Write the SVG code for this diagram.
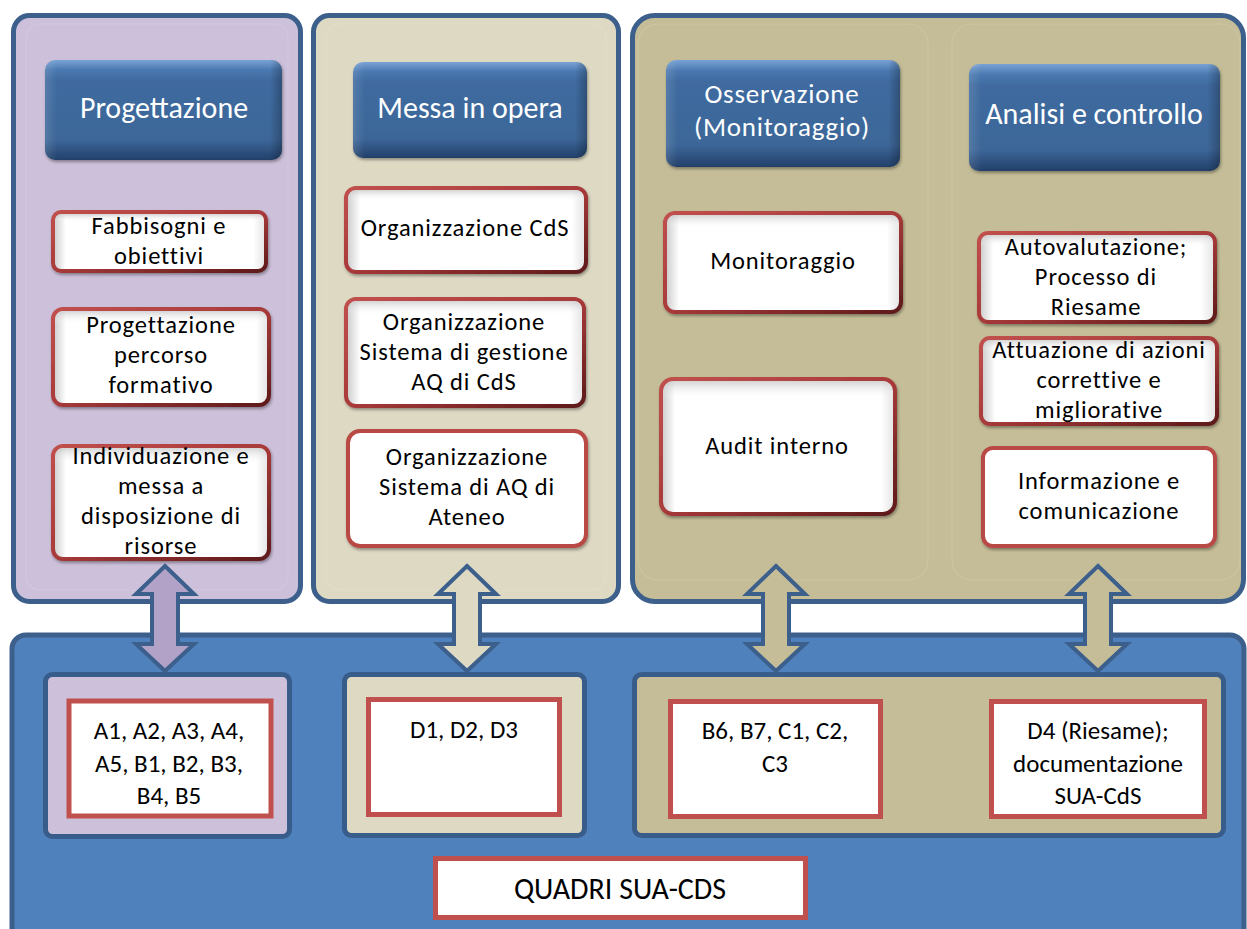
<svg xmlns="http://www.w3.org/2000/svg" width="1247" height="929" viewBox="0 0 1247 929">
<defs>
  <linearGradient id="hdrG" x1="0" y1="0" x2="0" y2="1">
    <stop offset="0" stop-color="#7aa3d6"/>
    <stop offset="0.1" stop-color="#4a78b0"/>
    <stop offset="0.2" stop-color="#3f6ba0"/>
    <stop offset="0.8" stop-color="#3c6698"/>
    <stop offset="1" stop-color="#22406a"/>
  </linearGradient>
  <linearGradient id="hdrSide" x1="0" y1="0" x2="1" y2="0">
    <stop offset="0" stop-color="#ffffff" stop-opacity="0.12"/>
    <stop offset="0.05" stop-color="#ffffff" stop-opacity="0"/>
    <stop offset="0.95" stop-color="#000000" stop-opacity="0"/>
    <stop offset="1" stop-color="#000000" stop-opacity="0.25"/>
  </linearGradient>
  <linearGradient id="bevX" x1="0" y1="0" x2="1" y2="0">
    <stop offset="0" stop-color="#c8c8c8"/>
    <stop offset="0.06" stop-color="#ffffff"/>
    <stop offset="0.94" stop-color="#ffffff"/>
    <stop offset="1" stop-color="#e2e2e2"/>
  </linearGradient>
  <linearGradient id="bevY" x1="0" y1="0" x2="0" y2="1">
    <stop offset="0" stop-color="#b8b8b8" stop-opacity="0.6"/>
    <stop offset="0.14" stop-color="#ffffff" stop-opacity="0"/>
    <stop offset="1" stop-color="#ffffff" stop-opacity="0"/>
  </linearGradient>
  <linearGradient id="redS" x1="0" y1="0" x2="1" y2="1">
    <stop offset="0" stop-color="#c0504d"/>
    <stop offset="0.5" stop-color="#a83a3a"/>
    <stop offset="1" stop-color="#5e1a1a"/>
  </linearGradient>
  <filter id="sh" x="-10%" y="-10%" width="120%" height="130%">
    <feDropShadow dx="1" dy="2" stdDeviation="1.5" flood-color="#000" flood-opacity="0.35"/>
  </filter>
</defs>
<style>
  .panel{stroke:#3c5f8c;stroke-width:5}
  .lane{fill:none;stroke:#ffffff;stroke-opacity:0.1;stroke-width:1.5}
  .hdr{fill:url(#hdrG);filter:url(#sh)}
  .hdrside{fill:url(#hdrSide)}
  .bev{fill:url(#bevX);stroke:url(#redS);stroke-width:4;filter:url(#sh)}
  .bevy{fill:url(#bevY)}
  .flat{fill:#ffffff;stroke:#b84845;stroke-width:4;filter:url(#sh)}
  .sub{stroke:#385d8a;stroke-width:5}
  .wbox{fill:#ffffff;stroke:#c0504d;stroke-width:5}
  .arrow{stroke:#3c5f8c;stroke-width:4;stroke-linejoin:miter}
  text{font-family:Carlito,Calibri,Lato,"Liberation Sans",sans-serif;text-anchor:middle}
  .ht{fill:#ffffff;font-size:30px}
  .ht2{fill:#ffffff;font-size:27px;letter-spacing:0.8px}
  .bt{fill:#000000;font-size:24.5px;letter-spacing:0.9px}
  .ct{fill:#000000;font-size:25px}
  .qt{fill:#000000;font-size:30px}
</style>

<!-- top panels -->
<g id="panel-progettazione">
  <rect class="panel" x="13.5" y="15.5" width="287" height="586" rx="16" fill="#ccc0da"/>
  <rect class="lane" x="26" y="24" width="262" height="566" rx="14"/>
</g>
<g id="panel-messa">
  <rect class="panel" x="313.5" y="15.5" width="305" height="586" rx="16" fill="#ddd9c3"/>
  <rect class="lane" x="326" y="24" width="280" height="566" rx="14"/>
</g>
<g id="panel-osservazione-analisi">
  <rect class="panel" x="632.5" y="15.5" width="611" height="586" rx="22" fill="#c4bd97"/>
  <rect class="lane" x="638" y="24" width="290" height="556" rx="20"/>
  <rect class="lane" x="952" y="24" width="288" height="556" rx="20"/>
</g>

<!-- bottom panel -->
<g id="panel-quadri">
  <rect class="panel" x="12" y="635" width="1232" height="320" rx="14" fill="#4f81bd" stroke="#385d8a"/>
</g>

<!-- headers -->
<g id="hdr-progettazione">
  <rect class="hdr" x="45" y="60" width="237" height="100" rx="10"/>
  <rect class="hdrside" x="45" y="60" width="237" height="100" rx="10"/>
  <text class="ht" x="164" y="118">Progettazione</text>
</g>
<g id="hdr-messa">
  <rect class="hdr" x="353" y="62" width="234" height="96" rx="10"/>
  <rect class="hdrside" x="353" y="62" width="234" height="96" rx="10"/>
  <text class="ht" x="470" y="118">Messa in opera</text>
</g>
<g id="hdr-osservazione">
  <rect class="hdr" x="666" y="60" width="234" height="107" rx="10"/>
  <rect class="hdrside" x="666" y="60" width="234" height="107" rx="10"/>
  <text class="ht2" x="782" y="103">Osservazione</text>
  <text class="ht2" x="782" y="136">(Monitoraggio)</text>
</g>
<g id="hdr-analisi">
  <rect class="hdr" x="969" y="64" width="251" height="107" rx="10"/>
  <rect class="hdrside" x="969" y="64" width="251" height="107" rx="10"/>
  <text class="ht" x="1094" y="124">Analisi e controllo</text>
</g>

<!-- column 1 boxes -->
<g id="box-fabbisogni">
  <rect class="bev" x="53" y="212" width="213" height="59" rx="8"/>
  <rect class="bevy" x="55" y="214" width="209" height="55" rx="7"/>
  <text class="bt" x="159" y="234">Fabbisogni e</text>
  <text class="bt" x="159" y="264">obiettivi</text>
</g>
<g id="box-progettazione-percorso">
  <rect class="bev" x="53" y="309" width="216" height="96" rx="10"/>
  <rect class="bevy" x="55" y="311" width="212" height="92" rx="9"/>
  <text class="bt" x="161" y="333">Progettazione</text>
  <text class="bt" x="161" y="363">percorso</text>
  <text class="bt" x="161" y="393">formativo</text>
</g>
<g id="box-individuazione">
  <rect class="bev" x="53" y="446" width="216" height="113" rx="10"/>
  <rect class="bevy" x="55" y="448" width="212" height="109" rx="9"/>
  <text class="bt" x="161" y="464">Individuazione e</text>
  <text class="bt" x="161" y="494">messa a</text>
  <text class="bt" x="161" y="524">disposizione di</text>
  <text class="bt" x="161" y="554">risorse</text>
</g>

<!-- column 2 boxes -->
<g id="box-org-cds">
  <rect class="bev" x="346" y="188" width="240" height="84" rx="10"/>
  <rect class="bevy" x="348" y="190" width="236" height="80" rx="9"/>
  <text class="bt" x="465" y="236">Organizzazione CdS</text>
</g>
<g id="box-org-gestione">
  <rect class="bev" x="346" y="299" width="238" height="107" rx="10"/>
  <rect class="bevy" x="348" y="301" width="234" height="103" rx="9"/>
  <text class="bt" x="464" y="330">Organizzazione</text>
  <text class="bt" x="464" y="360">Sistema di gestione</text>
  <text class="bt" x="464" y="390">AQ di CdS</text>
</g>
<g id="box-org-ateneo">
  <rect class="flat" x="348" y="431" width="238" height="115" rx="12"/>
  <text class="bt" x="467" y="465">Organizzazione</text>
  <text class="bt" x="467" y="495">Sistema di AQ di</text>
  <text class="bt" x="467" y="525">Ateneo</text>
</g>

<!-- column 3 boxes -->
<g id="box-monitoraggio">
  <rect class="bev" x="665" y="213" width="236" height="99" rx="10"/>
  <rect class="bevy" x="667" y="215" width="232" height="95" rx="9"/>
  <text class="bt" x="783" y="269">Monitoraggio</text>
</g>
<g id="box-audit">
  <rect class="bev" x="661" y="379" width="234" height="135" rx="12"/>
  <rect class="bevy" x="663" y="381" width="230" height="131" rx="11"/>
  <text class="bt" x="777" y="454">Audit interno</text>
</g>

<!-- column 4 boxes -->
<g id="box-autovalutazione">
  <rect class="bev" x="979" y="233" width="236" height="89" rx="9"/>
  <rect class="bevy" x="981" y="235" width="232" height="85" rx="8"/>
  <text class="bt" x="1096" y="255">Autovalutazione;</text>
  <text class="bt" x="1096" y="285">Processo di</text>
  <text class="bt" x="1096" y="315">Riesame</text>
</g>
<g id="box-attuazione">
  <rect class="bev" x="981" y="338" width="236" height="86" rx="9"/>
  <rect class="bevy" x="983" y="340" width="232" height="82" rx="8"/>
  <text class="bt" x="1099" y="358">Attuazione di azioni</text>
  <text class="bt" x="1099" y="388">correttive e</text>
  <text class="bt" x="1099" y="418">migliorative</text>
</g>
<g id="box-informazione">
  <rect class="flat" x="983" y="448" width="232" height="98" rx="10"/>
  <text class="bt" x="1099" y="489">Informazione e</text>
  <text class="bt" x="1099" y="519">comunicazione</text>
</g>

<!-- bottom sub groups -->
<g id="sub-a">
  <rect class="sub" x="45.5" y="674.5" width="244" height="162" rx="7" fill="#ccc0da"/>
  <rect class="wbox" x="69" y="701" width="202" height="115"/>
  <text class="ct" x="169" y="739">A1, A2, A3, A4,</text>
  <text class="ct" x="169" y="772">A5, B1, B2, B3,</text>
  <text class="ct" x="169" y="804">B4, B5</text>
</g>
<g id="sub-d">
  <rect class="sub" x="344.5" y="674.5" width="240" height="161" rx="7" fill="#ddd9c3"/>
  <rect class="wbox" x="368.5" y="699.5" width="191" height="115"/>
  <text class="ct" x="464" y="738">D1, D2, D3</text>
</g>
<g id="sub-bc">
  <rect class="sub" x="634.5" y="674.5" width="589" height="161" rx="7" fill="#c4bd97"/>
  <rect class="wbox" x="670.5" y="701.5" width="210" height="115"/>
  <text class="ct" x="775" y="739">B6, B7, C1, C2,</text>
  <text class="ct" x="775" y="772">C3</text>
  <rect class="wbox" x="991.5" y="701.5" width="213" height="115"/>
  <text class="ct" x="1098" y="739">D4 (Riesame);</text>
  <text class="ct" x="1098" y="772">documentazione</text>
  <text class="ct" x="1098" y="804">SUA-CdS</text>
</g>
<g id="quadri-label">
  <rect class="wbox" x="435.5" y="858.5" width="370" height="59"/>
  <text class="qt" x="620" y="899">QUADRI SUA-CDS</text>
</g>

<!-- connectors: double arrows -->
<g id="connectors">
  <path class="arrow" fill="#b2a2c7" d="M165,566 L194,594 L178,594 L178,644 L194,644 L165,671 L136,644 L152,644 L152,594 L136,594 Z"/>
  <path class="arrow" fill="#ddd9c3" d="M467,566 L496,594 L480,594 L480,644 L496,644 L467,671 L438,644 L454,644 L454,594 L438,594 Z"/>
  <path class="arrow" fill="#c4bd97" d="M776,566 L805,594 L789,594 L789,644 L805,644 L776,671 L747,644 L763,644 L763,594 L747,594 Z"/>
  <path class="arrow" fill="#c4bd97" d="M1098,566 L1127,594 L1111,594 L1111,644 L1127,644 L1098,671 L1069,644 L1085,644 L1085,594 L1069,594 Z"/>
</g>
</svg>
